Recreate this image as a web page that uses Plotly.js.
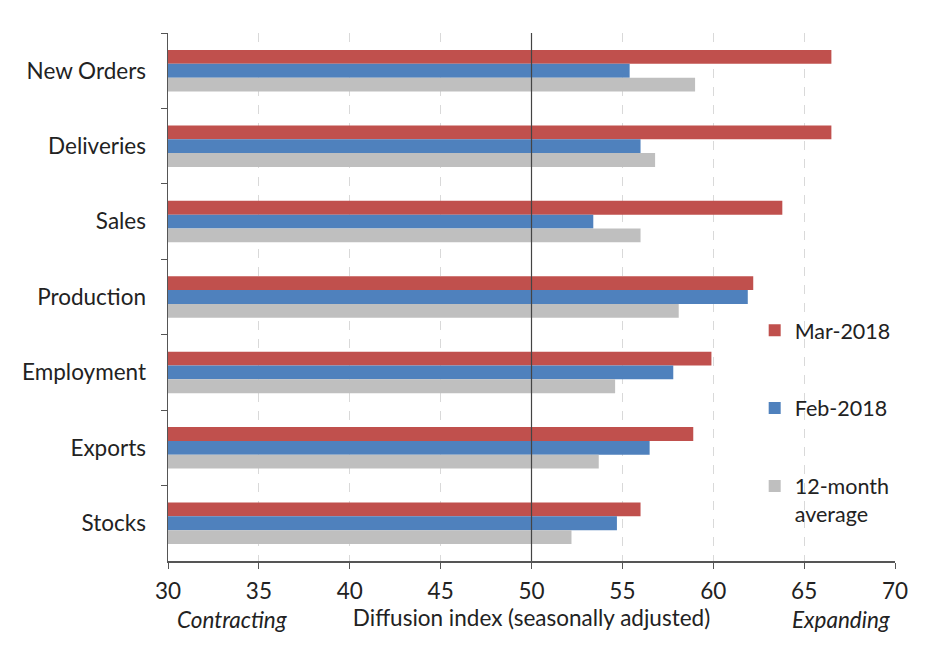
<!DOCTYPE html>
<html>
<head>
<meta charset="utf-8">
<script src="https://cdn.plot.ly/plotly-3.0.1.min.js"></script>
<style>html,body{margin:0;padding:0;background:#fff;}#chart{width:936px;height:657px;}</style>
</head>
<body>
<div id="chart"></div>
<script>
const categories = ["New Orders", "Deliveries", "Sales", "Production", "Employment", "Exports", "Stocks"];
const mar2018 = [66.5, 66.5, 63.8, 62.2, 59.9, 58.9, 56.0];
const feb2018 = [55.4, 56.0, 53.4, 61.9, 57.8, 56.5, 54.7];
const avg12m  = [59.0, 56.8, 56.0, 58.1, 54.6, 53.7, 52.2];
const seriesNames = ["Mar-2018", "Feb-2018", "12-month<br>average"];
const xTickVals = [30, 35, 40, 45, 50, 55, 60, 65, 70];
const threshold = 50;

const FONT = "Lato, Carlito, 'Open Sans', sans-serif";
const FS = 22.5;
const colors = ["#C0504D", "#4F81BD", "#BFBFBF"];
const allSeries = [mar2018, feb2018, avg12m];

const traces = allSeries.map((vals, i) => ({
  type: "bar",
  orientation: "h",
  y: categories,
  x: vals,
  name: seriesNames[i],
  legendgroup: "g" + i,
  marker: {color: colors[i], line: {width: 0}},
  hoverinfo: "x+y"
}));

const layout = {
  width: 936, height: 657,
  margin: {l: 168, r: 41, t: 33, b: 96},
  paper_bgcolor: "#fff", plot_bgcolor: "#fff",
  font: {family: FONT, size: FS, color: "#222"},
  barmode: "group",
  bargap: 0.45,
  bargroupgap: 0,
  showlegend: true,
  legend: {
    x: 0.807, xanchor: "left", y: 0.476, yanchor: "top",
    bgcolor: "rgba(255,255,255,0)",
    font: {family: FONT, size: FS - 1, color: "#222"},
    tracegroupgap: 47, traceorder: "grouped", valign: "top",
    itemwidth: 30
  },
  xaxis: {
    range: [30, 70], tickvals: xTickVals, ticktext: xTickVals.map(String),
    showgrid: true, gridcolor: "#d9d9d9", griddash: "dash", gridwidth: 1,
    zeroline: false,
    showline: true, linecolor: "#555", linewidth: 1.5,
    ticks: "outside", ticklen: 6, tickcolor: "#555",
    tickfont: {family: FONT, size: FS, color: "#222"},
    ticklabelstandoff: 3,
    title: {text: "Diffusion index (seasonally adjusted)", standoff: 3,
            font: {family: FONT, size: FS, color: "#222"}},
    automargin: false, fixedrange: true
  },
  yaxis: {
    type: "category", autorange: "reversed",
    showgrid: false, zeroline: false,
    showline: true, linecolor: "#555", linewidth: 1.5,
    ticks: "outside", ticklen: 6, tickcolor: "#555", tickson: "boundaries",
    tickfont: {family: FONT, size: FS, color: "#222"},
    ticklabelstandoff: 16,
    automargin: false, fixedrange: true
  },
  shapes: [{
    type: "line", xref: "x", yref: "paper",
    x0: threshold, x1: threshold, y0: 0, y1: 1,
    line: {color: "#444", width: 1.2}, layer: "above"
  }],
  annotations: [
    {text: "<i>Contracting</i>", xref: "paper", yref: "paper", x: (232-168)/727, y: -0.11,
     xanchor: "center", yanchor: "middle", showarrow: false,
     font: {family: FONT, size: FS, color: "#222"}},
    {text: "<i>Expanding</i>", xref: "paper", yref: "paper", x: (841-168)/727, y: -0.11,
     xanchor: "center", yanchor: "middle", showarrow: false,
     font: {family: FONT, size: FS, color: "#222"}}
  ]
};

Plotly.newPlot("chart", traces, layout, {displayModeBar: false, staticPlot: true});
</script>
</body>
</html>
